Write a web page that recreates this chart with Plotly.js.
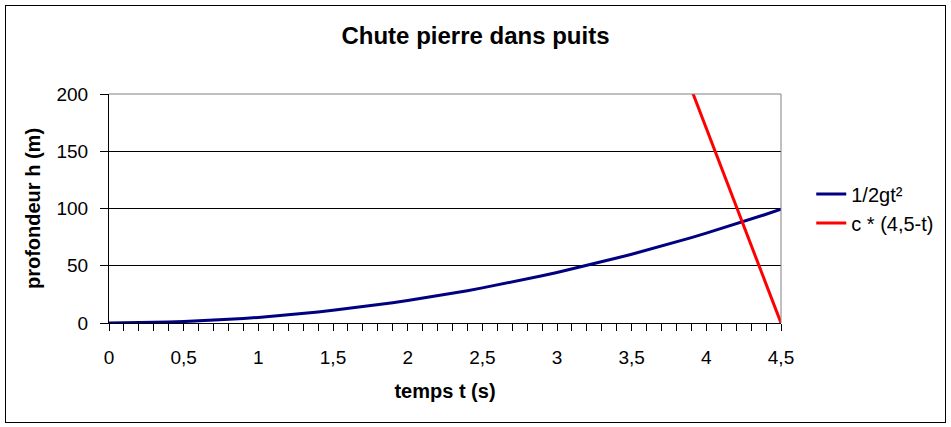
<!DOCTYPE html>
<html>
<head>
<meta charset="utf-8">
<script src="https://cdn.plot.ly/plotly-3.0.1.min.js"></script>
<style>
html,body{margin:0;padding:0;background:#fff;}
#wrap{position:relative;width:951px;height:427px;}
#chart{width:951px;height:427px;}
#frame{position:absolute;left:5px;top:5px;width:939px;height:416px;border:1px solid #000;pointer-events:none;}
</style>
</head>
<body>
<div id="wrap"><div id="chart"></div><div id="frame"></div></div>
<script>
// temps t (s)
var temps = [0,0.1,0.2,0.3,0.4,0.5,0.6,0.7,0.8,0.9,1,1.1,1.2,1.3,1.4,1.5,1.6,1.7,1.8,1.9,2,2.1,2.2,2.3,2.4,2.5,2.6,2.7,2.8,2.9,3,3.1,3.2,3.3,3.4,3.5,3.6,3.7,3.8,3.9,4,4.1,4.2,4.3,4.4,4.5];
// 1/2 g t^2
var chute = [0,0.05,0.2,0.44,0.78,1.23,1.77,2.4,3.14,3.97,4.91,5.94,7.06,8.29,9.61,11.04,12.56,14.18,15.89,17.71,19.62,21.63,23.74,25.95,28.25,30.66,33.16,35.76,38.46,41.25,44.15,47.14,50.23,53.42,56.7,60.09,63.57,67.15,70.83,74.6,78.48,82.45,86.52,90.69,94.96,99.33];
// c * (4,5 - t)
var son = [1530,1496,1462,1428,1394,1360,1326,1292,1258,1224,1190,1156,1122,1088,1054,1020,986,952,918,884,850,816,782,748,714,680,646,612,578,544,510,476,442,408,374,340,306,272,238,204,170,136,102,68,34,0];
var xTickVals = [0,0.5,1,1.5,2,2.5,3,3.5,4,4.5];
var xTickText = ['0','0,5','1','1,5','2','2,5','3','3,5','4','4,5'];
var yTickVals = [0,50,100,150,200];
var yTickText = ['0','50','100','150','200'];
var seriesNames = ['1/2gt²','c * (4,5-t)'];

var font = 'Liberation Sans, Arial, sans-serif';
var traces = [
  {x: temps, y: chute, type:'scatter', mode:'lines', name: seriesNames[0],
   line:{color:'#000080', width:3}},
  {x: temps, y: son, type:'scatter', mode:'lines', name: seriesNames[1],
   line:{color:'#ff0000', width:3}}
];
var layout = {
  width:951, height:427,
  paper_bgcolor:'#fff', plot_bgcolor:'#fff',
  margin:{l:109, r:170, t:94, b:104, pad:0},
  separators:',.',
  font:{family:font, color:'#000', size:19},
  showlegend:true,
  title:{text:'<b>Chute pierre dans puits</b>', font:{family:font, size:24, color:'#000'},
         x:0.5, xref:'container', xanchor:'center', y:1-36/427, yref:'container', yanchor:'middle'},
  xaxis:{range:[0,4.5], tickmode:'array', tickvals:xTickVals, ticktext:xTickText,
         ticks:'outside', ticklen:7, tickwidth:1, tickcolor:'#000',
         minor:{dtick:0.1, tick0:0, ticks:'outside', ticklen:7, tickwidth:1, tickcolor:'#000', showgrid:false},
         showline:true, linecolor:'#000', linewidth:1, showgrid:false, zeroline:false,
         tickfont:{size:19}, ticklabelstandoff:10,
         title:{text:'<b>temps t (s)</b>', font:{size:20}, standoff:17}},
  yaxis:{range:[0,200], tickmode:'array', tickvals:yTickVals, ticktext:yTickText,
         ticks:'outside', ticklen:8, tickwidth:1, tickcolor:'#000',
         showline:true, linecolor:'#000', linewidth:1, showgrid:true, gridcolor:'#000', gridwidth:1,
         zeroline:false, tickfont:{size:19}, ticklabelstandoff:8,
         title:{text:'<b>profondeur h (m)</b>', font:{size:20}, standoff:10}},
  legend:{x:1.045, xanchor:'left', y:0.5, yanchor:'middle', font:{size:20},
          bgcolor:'rgba(0,0,0,0)', borderwidth:0, traceorder:'normal'},
  shapes:[
    {type:'line', xref:'x domain', yref:'y domain', x0:0, x1:1, y0:1, y1:1, line:{color:'#808080', width:1}, layer:'above'},
    {type:'line', xref:'x domain', yref:'y domain', x0:1, x1:1, y0:0, y1:1, line:{color:'#808080', width:1}, layer:'above'}
  ]
};
Plotly.newPlot('chart', traces, layout, {displayModeBar:false, staticPlot:true});
</script>
</body>
</html>
